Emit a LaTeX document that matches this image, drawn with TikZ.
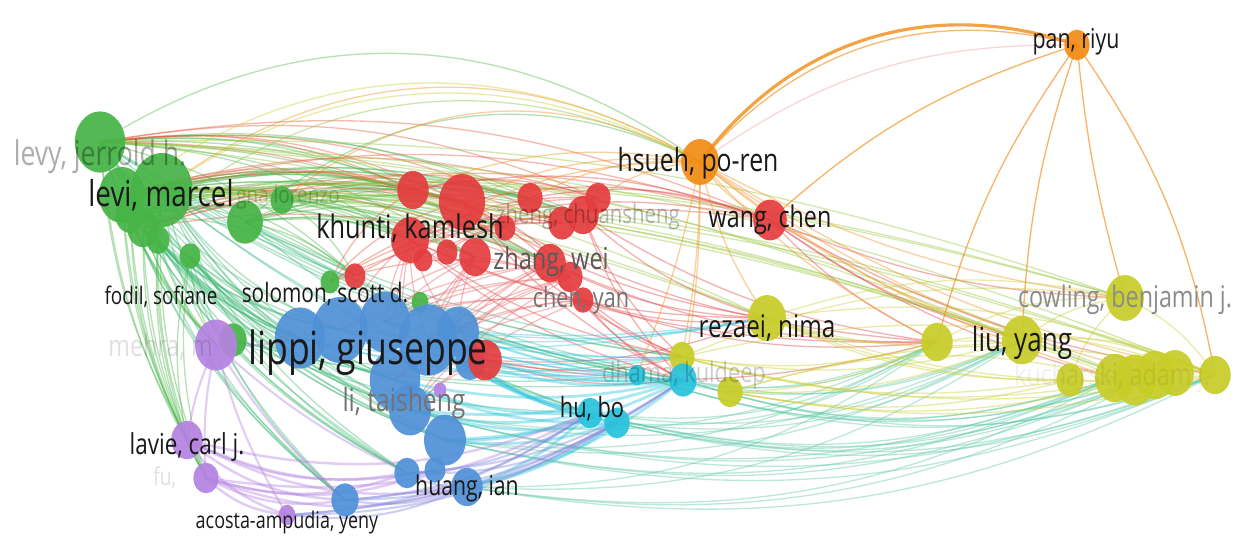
\documentclass[tikz,border=0pt]{standalone}
\usepackage{fontspec}
\setmainfont{Open Sans}
\usepackage{graphicx}
\usetikzlibrary{shapes.geometric}
\pgfdeclarelayer{bg}
\pgfdeclarelayer{edges}
\pgfsetlayers{bg,edges,main}
\definecolor{cG}{RGB}{70,180,70}
\definecolor{cR}{RGB}{228,60,62}
\definecolor{cB}{RGB}{80,145,215}
\definecolor{cP}{RGB}{180,130,225}
\definecolor{cO}{RGB}{242,140,20}
\definecolor{cC}{RGB}{40,195,220}
\definecolor{cY}{RGB}{200,205,40}
\definecolor{ink}{RGB}{25,25,25}
\tikzset{
  bub/.style={ellipse, inner sep=0pt, fill=#1, fill opacity=0.92, draw=none},
  edg/.style={draw=#1, draw opacity=0.4, line width=0.75pt},
  lbl/.style={inner sep=0pt, text=#1},
  flbl/.style={inner sep=0pt, text=black, text opacity=#1},
}
\newcommand\bb[5]{\node[bub=#5, minimum width={#4*0.042cm}, minimum height={#4*0.051cm}] (#1) at (#2,#3) {};}
\newcommand\lab[6]{\node[lbl=#5] (#1) at (#2,#3) {\fontsize{#4pt}{#4pt}\selectfont\scalebox{0.78}[1]{#6}};}
\newcommand\flab[6]{\node[flbl=#5] (#1) at (#2,#3) {\fontsize{#4pt}{#4pt}\selectfont\scalebox{0.78}[1]{#6}};}
\begin{document}
\begin{tikzpicture}[x=0.02cm,y=-0.02cm]
\useasboundingbox (0,0) rectangle (1249,558);
\begin{pgfonlayer}{bg}
\fill[white] (0,0) rectangle (1249,558);
\end{pgfonlayer}
% green
\bb{g1}{100}{142}{24}{cG}
\bb{g12}{130}{215}{14}{cG}
\bb{g2}{122}{195}{22}{cG}
\bb{g3}{162}{190}{29}{cG}
\bb{g4}{143}{228}{15}{cG}
\bb{g5}{158}{240}{11}{cG}
\bb{g6}{190}{256}{10}{cG}
\bb{g7}{245}{222}{17}{cG}
\bb{g8}{282}{200}{11}{cG}
\bb{g9}{330}{282}{9}{cG}
\bb{g10}{420}{302}{8}{cG}
\bb{g11}{233}{340}{13}{cG}
% red
\bb{r1}{413}{190}{15}{cR}
\bb{r2}{462}{202}{22}{cR}
\bb{r3}{410}{240}{18}{cR}
\bb{r4}{447}{252}{10}{cR}
\bb{r5}{475}{257}{15}{cR}
\bb{r6}{530}{198}{12}{cR}
\bb{r7}{598}{198}{12}{cR}
\bb{r8}{583}{215}{15}{cR}
\bb{r9}{562}{223}{13}{cR}
\bb{r10}{550}{263}{15}{cR}
\bb{r11}{570}{277}{12}{cR}
\bb{r12}{583}{300}{10}{cR}
\bb{r13}{770}{220}{16}{cR}
\bb{r14}{355}{276}{10}{cR}
\bb{r16}{423}{260}{9}{cR}
\bb{r17}{505}{228}{10}{cR}
% orange
\bb{o1}{700}{162}{18}{cO}
\bb{o2}{1077}{45}{12}{cO}
% blue
\bb{b1}{300}{338}{24}{cB}
\bb{b2}{340}{330}{26}{cB}
\bb{b3}{385}{322}{24}{cB}
\bb{b4}{428}{340}{28}{cB}
\bb{b5}{458}{332}{20}{cB}
\bb{b6}{395}{380}{24}{cB}
\bb{b7}{410}{410}{20}{cB}
\bb{b8}{445}{440}{20}{cB}
\bb{b9}{407}{473}{12}{cB}
\bb{b10}{467}{487}{15}{cB}
\bb{b11}{345}{500}{13}{cB}
\bb{b12}{470}{362}{14}{cB}
\bb{b13}{435}{470}{10}{cB}
\bb{r15}{485}{360}{16}{cR}
% purple
\bb{p1}{216}{345}{20}{cP}
\bb{p2}{187}{440}{15}{cP}
\bb{p3}{206}{478}{12}{cP}
\bb{p4}{287}{515}{8}{cP}
\bb{p5}{440}{390}{6}{cP}
% cyan
\bb{c1}{590}{413}{12}{cC}
\bb{c2}{617}{423}{12}{cC}
\bb{c3}{637}{375}{8}{cC}
% yellow
\bb{y1}{682}{357}{12}{cY}
\bb{c4}{683}{380}{13}{cC}
\bb{y2}{730}{392}{12}{cY}
\bb{y3}{767}{318}{18}{cY}
\bb{y4}{937}{342}{15}{cY}
\bb{y5}{1022}{340}{19}{cY}
\bb{y6}{1125}{298}{18}{cY}
\bb{y7}{1070}{380}{13}{cY}
\bb{y8}{1115}{378}{19}{cY}
\bb{y9}{1135}{380}{20}{cY}
\bb{y10}{1155}{375}{19}{cY}
\bb{y11}{1175}{373}{18}{cY}
\bb{y12}{1215}{375}{15}{cY}
% edges
\begin{pgfonlayer}{edges}
\foreach \a in {g1,g3,g7,g8,g12,g2} \foreach \b in {r1,r2,r3,r5,r6,r8,r10,r14,r17}
  \draw[edg=cG] (\a.center) to[bend left=14] (\b.center);
\foreach \a in {g2,g4,g9,g1} \foreach \b in {r2,r7,r9,r11,r13,r1}
  \draw[edg=cR!70!cO] (\b.center) to[bend right=16] (\a.center);
\foreach \a/\c in {g1/cG,g2/cY,g3/cO,g7/cG,g12/cY,g8/cO,g4/cG!50!cY}
  \draw[edg=\c] (\a.center) to[bend left=34] (o1.center);
\foreach \a in {g1,g3,g2} \foreach \b in {y3,y5,y6,y9,y12}
  \draw[edg=cY!60!cG] (\a.center) to[bend left=10] (\b.center);
\foreach \a in {g1,g2,g3,g4,g5,g12,g6} \foreach \b in {p1,p2,p3}
  \draw[edg=cG] (\a.center) to[bend right=12] (\b.center);
\foreach \a in {g1,g2,g3,g5,g6,g4} \foreach \b in {b1,b2,b6,b7,b9,b11,b8}
  \draw[edg=cG!70!cC] (\a.center) to[bend right=15] (\b.center);
\foreach \a in {g3,g7,g11,g1} \foreach \b in {c1,c4,y1,c3}
  \draw[edg=cG!60!cC] (\a.center) to[bend right=10] (\b.center);
\foreach \a/\b in {r1/r7,r2/r13,r3/r9,r5/r12,r6/r13,r1/r10,r2/r11,r3/r7,r14/r9,r16/r8,r4/r17,r1/r13,r3/r13}
  \draw[edg=cR] (\a.center) to[bend left=15] (\b.center);
\foreach \a in {r2,r8,r10,r12,r15,r3} \foreach \b in {y1,y3,c4,y4}
  \draw[edg=cR] (\a.center) to[bend right=12] (\b.center);
\foreach \b in {y4,y5,y6,y8,y12}
  \draw[edg=cR] (r13.center) to[bend right=10] (\b.center);
\foreach \a in {b2,b3,b4,b5,b6,b7} \foreach \b in {r3,r5,r10,r11,r12,r15}
  \draw[edg=cR!80!white] (\a.center) to[bend left=10] (\b.center);
\draw[edg=cO, line width=1.8pt, draw opacity=0.8] (o1.center) to[bend left=36] (o2.center);
\draw[edg=cO, draw opacity=0.6] (o1.center) to[bend left=32] (o2.center);
\draw[edg=cR!50!white] (o1.center) to[bend left=18] (o2.center);
\foreach \b in {y3,y4,y5,y6,y8,y12,y10}
  \draw[edg=cO] (o1.center) to[bend right=10] (\b.center);
\foreach \b in {r2,r6,r7,r13,r1,r3}
  \draw[edg=cO] (o1.center) to[bend right=15] (\b.center);
\foreach \b in {y1,c4,c3}
  \draw[edg=cO] (o1.center) to[bend left=5] (\b.center);
\draw[edg=cO, draw opacity=0.65] (o2.center) to[bend right=5] (y6.center);
\draw[edg=cO, draw opacity=0.65] (o2.center) to[bend left=12] (y12.center);
\draw[edg=cO, draw opacity=0.65] (o2.center) to[bend right=10] (y4.center);
\draw[edg=cO, draw opacity=0.65] (o2.center) to[bend right=12] (r13.center);
\draw[edg=cO, draw opacity=0.65] (o2.center) to[bend right=8] (y5.center);
\foreach \a in {b4,b7,b8,b10,b12,b6} \foreach \b in {c1,c2,c4}
  \draw[edg=cC, line width=1.6pt] (\a.center) to[bend right=12] (\b.center);
\foreach \a in {c1,c2,c3,c4,b8,b10,b7} \foreach \b in {y4,y5,y8,y10,y12}
  \draw[edg=cC!70!cY] (\a.center) to[bend right=18] (\b.center);
\foreach \a in {y1,y2,y3} \foreach \b in {y4,y5,y7,y9,y12}
  \draw[edg=cY] (\a.center) to[bend right=12] (\b.center);
\foreach \a/\b in {y4/y6,y4/y8,y4/y12,y5/y6,y5/y12,y7/y6,y6/y12,y3/y6,y1/y6,y2/y8,y2/y12,y1/y12,y3/y12}
  \draw[edg=cY] (\a.center) to[bend left=15] (\b.center);
\foreach \a in {p2,p3} \foreach \b in {p4,b9,b11,b10,c1,b13}
  \draw[edg=cP, line width=1.4pt] (\a.center) to[bend right=18] (\b.center);
\foreach \b in {p2,p3,b11,p4,b1,b9}
  \draw[edg=cP, line width=1.2pt] (p1.center) to[bend right=8] (\b.center);
\foreach \a in {p4,b11,b9} \foreach \b in {b10,c1,c2,c4}
  \draw[edg=cP!50!cB, line width=1.2pt] (\a.center) to[bend right=15] (\b.center);
\foreach \a in {b1,b2,b3,b5} \foreach \b in {c3,y3,y1,c4}
  \draw[edg=cC] (\a.center) to[bend right=8] (\b.center);
\end{pgfonlayer}
% faint labels
\flab{Llevy}{100}{157}{19.4}{0.32}{levy, jerrold h.}
\flab{Lgna}{288}{197}{13.8}{0.2}{gna lorenzo}
\flab{Lzheng}{588}{217}{14.9}{0.28}{zheng, chuansheng}
\node[flbl=0.12, anchor=west] (Lmehra) at (108,347) {\fontsize{17pt}{17pt}\selectfont\scalebox{0.78}[1]{mehra, m}};
\node[flbl=0.12, anchor=west] (Lfu) at (153,478) {\fontsize{14pt}{14pt}\selectfont\scalebox{0.78}[1]{fu,}};
\flab{Ldhama}{684}{375}{15.9}{0.2}{dhama, kuldeep}
\flab{Lkuch}{1112}{378}{17}{0.06}{kucharski, adam j.}
% dark labels
\lab{Llevi}{161}{195}{20.3}{ink}{levi, marcel}
\lab{Lkhunti}{410}{228}{18.5}{ink}{khunti, kamlesh}
\lab{Lzhang}{551}{262}{17.2}{black!65}{zhang, wei}
\lab{Lchen}{581}{300}{15.8}{black!55}{chen, yan}
\lab{Lhsueh}{698}{163}{18.1}{ink}{hsueh, po-ren}
\lab{Lwang}{770}{220}{17}{ink}{wang, chen}
\lab{Lfodil}{161}{297}{13.8}{ink}{fodil, sofiane}
\lab{Lsolomon}{325}{294}{15.2}{ink}{solomon, scott d.}
\lab{Llippi}{368}{353}{26}{ink}{lippi, giuseppe}
\lab{Lli}{404}{403}{18}{black!55}{li, taisheng}
\lab{Llavie}{187}{447}{16.4}{ink}{lavie, carl j.}
\lab{Lacosta}{287}{523}{13.1}{ink}{acosta-ampudia, yeny}
\lab{Lhuang}{467}{488}{15.5}{ink}{huang, ian}
\lab{Lhubo}{592}{409}{15.9}{ink}{hu, bo}
\lab{Lrezaei}{767}{328}{17.7}{ink}{rezaei, nima}
\lab{Lliu}{1022}{343}{19}{ink}{liu, yang}
\lab{Lcowling}{1125}{300}{17}{black!45}{cowling, benjamin j.}
\lab{Lpan}{1076}{42}{15.6}{ink}{pan, riyu}
\end{tikzpicture}
\end{document}
